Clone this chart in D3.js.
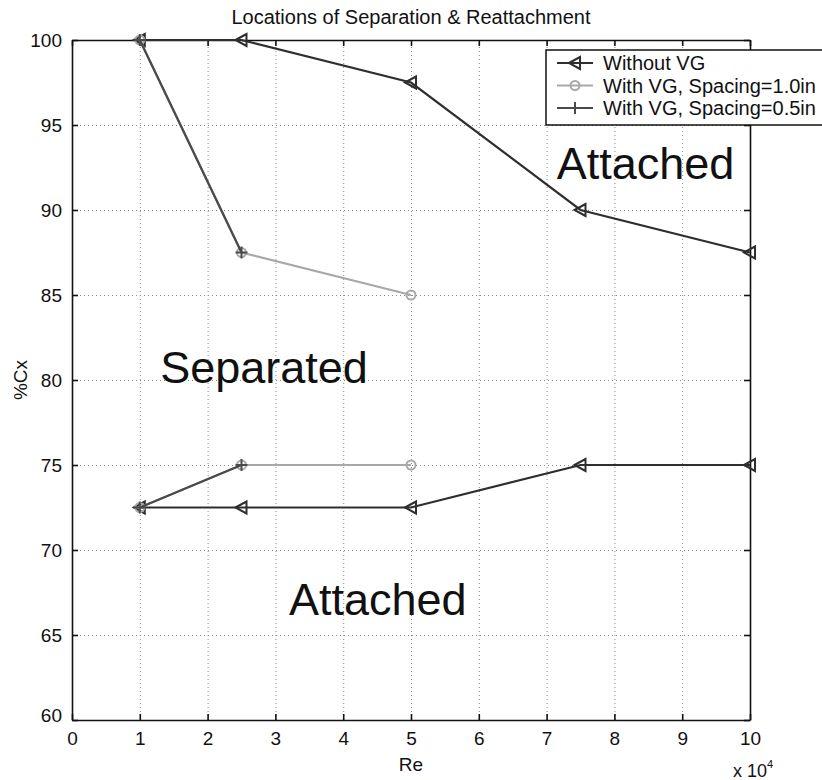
<!DOCTYPE html>
<html>
<head>
<meta charset="utf-8">
<script src="https://cdn.jsdelivr.net/npm/d3@7"></script>
<style>
  body { margin: 0; background: #fff; }
  svg { display: block; font-family: "Liberation Sans", Arial, sans-serif; }
  .grid line { stroke: #8a8a8a; stroke-width: 1; stroke-dasharray: 1,3; }
  .grid path { display: none; }
  .axis path, .axis line { stroke: #111; }
  .axis text { fill: #111; font-size: 19px; }
</style>
</head>
<body>
<script>
// chart values
const re_ticks = [0, 1, 2, 3, 4, 5, 6, 7, 8, 9, 10]
const cx_ticks = [60, 65, 70, 75, 80, 85, 90, 95, 100]

const re_without = [1, 2.5, 5, 7.5, 10]
const sep_without = [100, 100, 97.5, 90, 87.5]
const reatt_without = [72.5, 72.5, 72.5, 75, 75]

const re_vg10 = [1, 2.5, 5]
const sep_vg10 = [100, 87.5, 85]
const reatt_vg10 = [72.5, 75, 75]

const re_vg05 = [1, 2.5]
const sep_vg05 = [100, 87.5]
const reatt_vg05 = [72.5, 75]

const series_names = ["Without VG", "With VG, Spacing=1.0in", "With VG, Spacing=0.5in"]

const width = 822, height = 780
const plot_left = 72, plot_right = 750, plot_top = 40, plot_bottom = 720

let svg = d3.select("body").append("svg").attr("width", width).attr("height", height)

let x = d3.scaleLinear().domain([0, 10]).range([plot_left, plot_right])
let y = d3.scaleLinear().domain([60, 100]).range([plot_bottom, plot_top])

// dotted grid
svg.append("g").attr("class", "grid")
    .attr("transform", `translate(0,${plot_bottom})`)
    .call(d3.axisBottom(x).tickValues(re_ticks.slice(1, -1)).tickSize(-(plot_bottom - plot_top)).tickFormat(""))
svg.append("g").attr("class", "grid")
    .attr("transform", `translate(${plot_left},0)`)
    .call(d3.axisLeft(y).tickValues(cx_ticks.slice(1, -1)).tickSize(-(plot_right - plot_left)).tickFormat(""))

// axes with inward ticks on all four sides
svg.append("g").attr("class", "axis")
    .attr("transform", `translate(0,${plot_bottom})`)
    .call(d3.axisBottom(x).tickValues(re_ticks).tickSizeInner(-6).tickSizeOuter(0).tickPadding(12))
svg.append("g").attr("class", "axis")
    .attr("transform", `translate(0,${plot_top})`)
    .call(d3.axisTop(x).tickValues(re_ticks).tickSizeInner(-6).tickSizeOuter(0).tickFormat(""))
svg.append("g").attr("class", "axis")
    .attr("transform", `translate(${plot_left},0)`)
    .call(d3.axisLeft(y).tickValues(cx_ticks).tickSizeInner(-6).tickSizeOuter(0).tickPadding(10))
svg.append("g").attr("class", "axis")
    .attr("transform", `translate(${plot_right},0)`)
    .call(d3.axisRight(y).tickValues(cx_ticks).tickSizeInner(-6).tickSizeOuter(0).tickFormat(""))
svg.selectAll(".axis path").attr("stroke-width", 1.6)
svg.selectAll(".axis line").attr("stroke-width", 1.6)

// nudge the lowest y label like matlab does
svg.selectAll(".axis text").filter(d => d === 60).attr("dy", "0.1em")

// series
let series = [
    {name: series_names[0], color: "#2e2e2e", marker: "tri", parts: [[re_without, sep_without], [re_without, reatt_without]]},
    {name: series_names[1], color: "#a8a8a8", marker: "circle", parts: [[re_vg10, sep_vg10], [re_vg10, reatt_vg10]]},
    {name: series_names[2], color: "#4a4a4a", marker: "plus", parts: [[re_vg05, sep_vg05], [re_vg05, reatt_vg05]]}
]

let line = d3.line().x(d => x(d[0])).y(d => y(d[1]))

function drawMarker(g, kind, color) {
    if (kind === "tri") {
        g.append("path").attr("d", "M-6,0 L5,-6 L5,6 Z")
            .attr("fill", "none").attr("stroke", color).attr("stroke-width", 2)
    } else if (kind === "circle") {
        g.append("circle").attr("r", 4.5)
            .attr("fill", "none").attr("stroke", color).attr("stroke-width", 2)
    } else {
        g.append("path").attr("d", "M-6,0 H6 M0,-6 V6")
            .attr("stroke", color).attr("stroke-width", 2)
    }
}

for (let s of series) {
    for (let part of s.parts) {
        let pts = part[0].map((v, i) => [v, part[1][i]])
        svg.append("path").datum(pts)
            .attr("d", line)
            .attr("fill", "none")
            .attr("stroke", s.color)
            .attr("stroke-width", 2.2)
        svg.selectAll(null).data(pts).join("g")
            .attr("transform", d => `translate(${x(d[0])},${y(d[1])})`)
            .each(function () { drawMarker(d3.select(this), s.marker, s.color) })
    }
}

// region labels
let regions = [
    {text: "Attached", re: 7.15, cx: 91.8},
    {text: "Separated", re: 1.3, cx: 79.8},
    {text: "Attached", re: 3.2, cx: 66.2}
]
svg.selectAll(".region").data(regions).join("text")
    .attr("class", "region")
    .attr("x", d => x(d.re))
    .attr("y", d => y(d.cx))
    .attr("font-size", 45)
    .attr("fill", "#111")
    .text(d => d.text)

// title and axis labels
svg.append("text").attr("x", (plot_left + plot_right) / 2).attr("y", 24)
    .attr("text-anchor", "middle").attr("font-size", 20).attr("fill", "#111")
    .text("Locations of Separation & Reattachment")
svg.append("text").attr("x", (plot_left + plot_right) / 2).attr("y", 771)
    .attr("text-anchor", "middle").attr("font-size", 19).attr("fill", "#111")
    .text("Re")
svg.append("text").attr("transform", `translate(27,${(plot_top + plot_bottom) / 2}) rotate(-90)`)
    .attr("text-anchor", "middle").attr("font-size", 19).attr("fill", "#111")
    .text("%Cx")
let mult = svg.append("text").attr("x", 733).attr("y", 777).attr("font-size", 18).attr("fill", "#111")
mult.append("tspan").text("x 10")
mult.append("tspan").attr("font-size", 11).attr("dy", -9).text("4")

// legend
let legend = svg.append("g").attr("transform", "translate(546,50)")
legend.append("rect").attr("width", 300).attr("height", 75)
    .attr("fill", "#fff").attr("stroke", "#111").attr("stroke-width", 1.5)
let rows = legend.selectAll(".row").data(series).join("g")
    .attr("class", "row")
    .attr("transform", (d, i) => `translate(0,${13 + i * 22.5})`)
rows.append("line").attr("x1", 11).attr("x2", 47)
    .attr("stroke", d => d.color).attr("stroke-width", 2.2)
rows.each(function (d) {
    let m = d3.select(this).append("g").attr("transform", "translate(29,0)")
    drawMarker(m, d.marker, d.color)
})
rows.append("text").attr("x", 57).attr("dy", "0.35em")
    .attr("font-size", 20).attr("fill", "#111")
    .text(d => d.name)
</script>
</body>
</html>
